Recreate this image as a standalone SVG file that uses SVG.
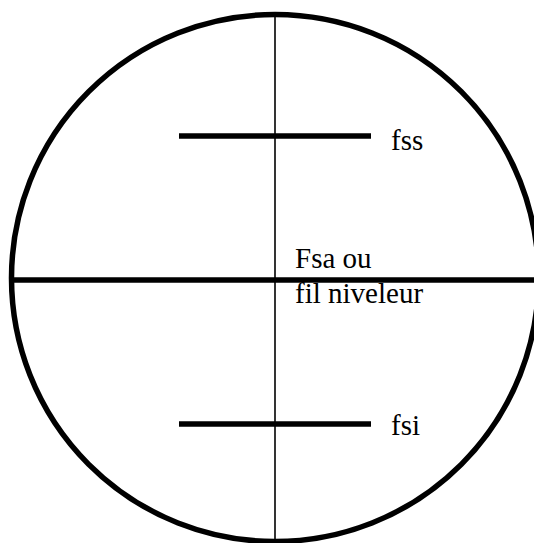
<svg xmlns="http://www.w3.org/2000/svg" width="534" height="543" viewBox="0 0 534 543">
<style>
text{font-family:'Liberation Serif',serif;font-size:29px;fill:#000}
.thick{stroke:#000;stroke-width:5.5;fill:none}
</style>
<rect width="534" height="543" fill="#fff"/>
<g id="reticle">
<circle cx="275" cy="278" r="263.5" class="thick"/>
<line x1="275" y1="16" x2="275" y2="543" stroke="#000" stroke-width="1.6"/>
<line x1="11" y1="280" x2="534" y2="280" class="thick"/>
</g>
<g id="fss">
<line x1="179" y1="136" x2="371" y2="136" class="thick"/>
<text x="391" y="150">fss</text>
</g>
<g id="fsa">
<text x="295" y="268">Fsa ou</text>
<text x="295" y="303">fil niveleur</text>
</g>
<g id="fsi">
<line x1="179" y1="424" x2="371" y2="424" class="thick"/>
<text x="391" y="435">fsi</text>
</g>
</svg>
